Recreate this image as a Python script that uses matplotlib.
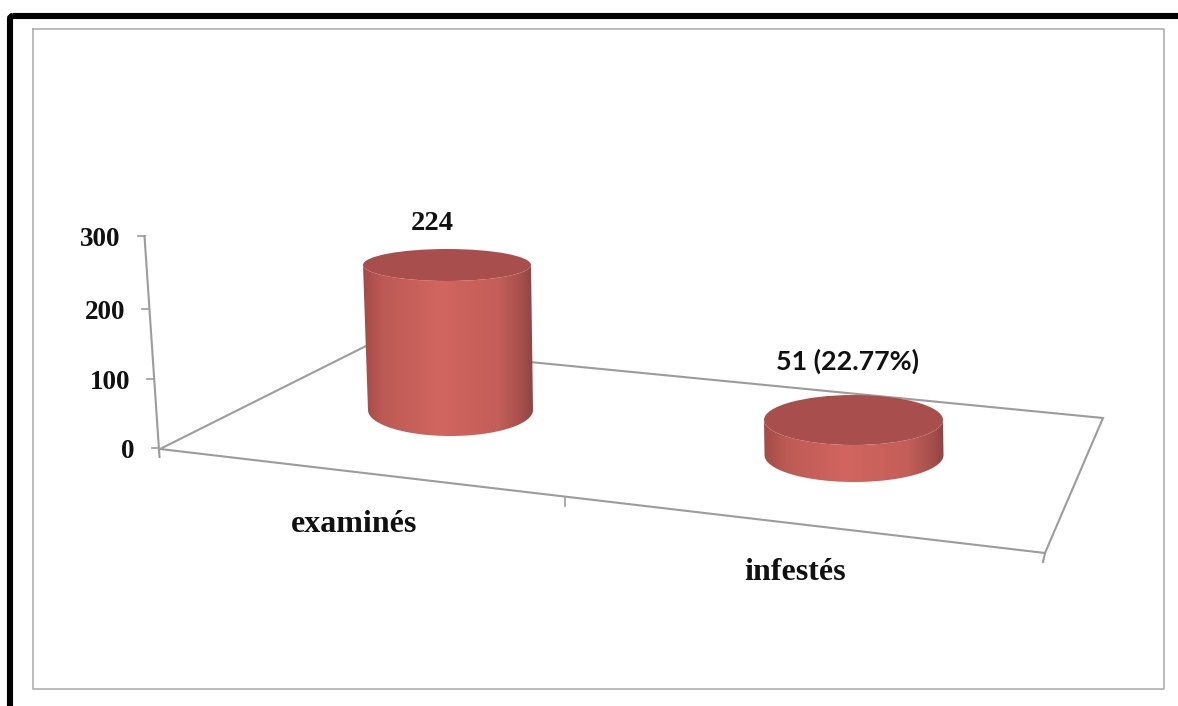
import numpy as np
import matplotlib
matplotlib.use("Agg")
import matplotlib.pyplot as plt
from matplotlib.colors import LinearSegmentedColormap
from matplotlib.patches import Polygon, Ellipse, FancyBboxPatch

# ---- data ----
categories = ["examinés", "infestés"]
values = [224, 51]
value_labels = ["224", "51 (22.77%)"]
y_ticks = [0, 100, 200, 300]

# ---- layout (pixel space of the picture) ----
W, H = 1178, 706
fig = plt.figure(figsize=(W / 100, H / 100), dpi=100, facecolor="white")
ax = fig.add_axes([0, 0, 1, 1])
ax.set_xlim(0, W)
ax.set_ylim(H, 0)
ax.axis("off")

GRAY = "#9c9c9c"
SERIF = "Liberation Serif"

# outer frames
ax.add_patch(FancyBboxPatch((10, 16), W + 40, H + 40,
                            boxstyle="round,pad=0,rounding_size=3",
                            fc="none", ec="black", lw=4.4, zorder=1))
ax.plot([33, 1164, 1164, 33, 33], [28.5, 28.5, 688.5, 688.5, 28.5],
        color="#aaaaaa", lw=1.1, zorder=1)

# floor of the 3D plot
FL = (160, 449)   # front left
BL = (366, 346)   # back left
BR = (1103, 418)  # back right
FR = (1045, 553)  # front right
ax.plot([FL[0], BL[0], BR[0], FR[0], FL[0]],
        [FL[1], BL[1], BR[1], FR[1], FL[1]],
        color=GRAY, lw=1.5, zorder=2, solid_joinstyle="miter")
ax.plot([565, 565], [498, 506], color=GRAY, lw=1.2, zorder=2)
ax.plot([1045, 1043], [553, 562], color=GRAY, lw=1.5, zorder=2)

# vertical axis: the perspective spaces the ticks slightly unevenly
AX_TOP = (144.5, 236)
AX_BOTTOM = (159.5, 457)
tick_y_px = [448, 379, 309, 236]
ax.plot([AX_TOP[0], AX_BOTTOM[0]], [AX_TOP[1], AX_BOTTOM[1]],
        color=GRAY, lw=1.5, zorder=2)
tick_label_dx = 24
for v, y in zip(y_ticks, tick_y_px):
    t = (y - AX_TOP[1]) / (AX_BOTTOM[1] - AX_TOP[1])
    x = AX_TOP[0] + (AX_BOTTOM[0] - AX_TOP[0]) * t
    ax.plot([x - 7, x], [y, y], color=GRAY, lw=1.2, zorder=2)
    ax.text(x - tick_label_dx, y + 3.5, str(v), ha="right", va="center",
            family=SERIF, weight="bold", fontsize=19.5, color="#111111", zorder=6)

# cylinders
cmap = LinearSegmentedColormap.from_list("side", [
    (0.00, "#a44a48"), (0.12, "#bd5a55"), (0.45, "#d2655f"),
    (0.80, "#c45e58"), (0.93, "#a84f4d"), (1.00, "#8f4444")])
TOP_COLOR = "#a84f4e"

# per-bar geometry: bottom centre x/y, top centre x, half-widths, half-depths, px per unit
geoms = [
    dict(xb=450.5, yb=410, xt=447, ab=82.5, at=84, bb=26, bt=16, k=145 / 224),
    dict(xb=854, yb=455, xt=853.5, ab=89.5, at=89.5, bb=27, bt=25, k=35 / 51),
]
label_pos = [(432, 224), (847, 361)]
label_style = [
    dict(family=SERIF, fontsize=20.5),
    dict(family="Lato", fontsize=19.4),
]
cat_pos = [(354, 525), (795, 572)]

theta = np.linspace(0, np.pi, 80)
grad = np.linspace(0, 1, 256).reshape(1, -1)
for val, g, lab, lp, ls in zip(values, geoms, value_labels, label_pos, label_style):
    yt = g["yb"] - val * g["k"]
    bx = g["xb"] + g["ab"] * np.cos(theta[::-1])
    by = g["yb"] + g["bb"] * np.sin(theta[::-1])
    tx = g["xt"] + g["at"] * np.cos(theta)
    ty = yt + g["bt"] * np.sin(theta)
    outline = np.column_stack([np.r_[bx, tx], np.r_[by, ty]])
    side = Polygon(outline, closed=True, fc="none", ec="none", transform=ax.transData)
    ax.add_patch(side)
    x0 = min(g["xb"] - g["ab"], g["xt"] - g["at"])
    x1 = max(g["xb"] + g["ab"], g["xt"] + g["at"])
    im = ax.imshow(grad, cmap=cmap, aspect="auto", extent=(x0, x1, g["yb"] + g["bb"], yt),
                   zorder=3, interpolation="bilinear")
    im.set_clip_path(side)
    ax.add_patch(Ellipse((g["xt"], yt), 2 * g["at"], 2 * g["bt"],
                         fc=TOP_COLOR, ec="none", zorder=4))
    ax.text(lp[0], lp[1], lab, ha="center", va="center", weight="bold",
            color="#111111", zorder=6, **ls)

ax.set_xlim(0, W)
ax.set_ylim(H, 0)

for cat, cp in zip(categories, cat_pos):
    ax.text(cp[0], cp[1], cat, ha="center", va="center", family=SERIF,
            weight="bold", fontsize=23, color="#111111", zorder=6)

fig.savefig("out.png", dpi=100, facecolor="white")
